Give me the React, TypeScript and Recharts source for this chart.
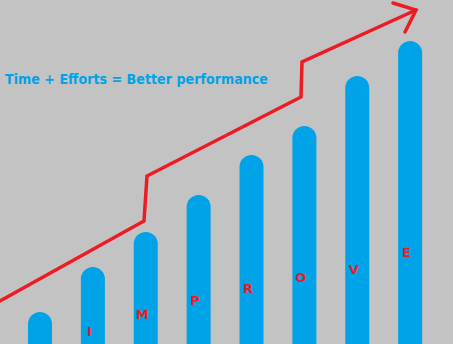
import { ComposedChart, Bar, Line, XAxis, YAxis, Customized } from "recharts"

// eight growth steps, last seven spell the word
const steps = ["s1", "s2", "s3", "s4", "s5", "s6", "s7", "s8"]
const barHeights = [32, 77, 112, 149, 189, 218, 268, 303]
const letters = ["", "I", "M", "P", "R", "O", "V", "E"]
const letterLevels = [null, 13, 30, 44, 56, 67, 75, 92]

// hand drawn trend line (progress vs level) and its arrow head
const trendT = [0, 144, 147, 301, 302, 416]
const trendV = [43, 123, 168, 247, 282, 334]
const headT = [393, 416, 405]
const headV = [341, 334, 312]

const title = "Time + Efforts = Better performance"

const bars = steps.map((s, i) => ({
  step: s,
  height: barHeights[i],
  letterLevel: letterLevels[i],
}))
const trend = trendT.map((t, i) => ({ t, v: trendV[i] }))
const head = headT.map((t, i) => ({ t, v: headV[i] }))

const RED = "#ed1c24"
const BLUE = "#00a2e8"

function renderLetter(props: any) {
  const { x, y, index } = props
  if (y == null || !letters[index]) return null
  return (
    <text
      key={index}
      x={x - 4}
      y={y}
      textAnchor="middle"
      dominantBaseline="central"
      fill={RED}
      fontSize={13}
      fontWeight="bold"
      fontFamily="DejaVu Sans"
    >
      {letters[index]}
    </text>
  )
}

export default function App() {
  return (
    <div
      style={{
        position: "absolute",
        left: 0,
        top: 0,
        width: 453,
        height: 344,
        background: "#c3c3c3",
      }}
    >
      <ComposedChart
        width={453}
        height={344}
        data={bars}
        margin={{ top: 0, right: 0, bottom: 0, left: 0 }}
      >
        <XAxis
          xAxisId="cat"
          dataKey="step"
          type="category"
          hide
          padding={{ left: 14, right: 16 }}
        />
        <XAxis
          xAxisId="t"
          dataKey="t"
          type="number"
          domain={[0, 453]}
          allowDataOverflow
          hide
        />
        <YAxis domain={[0, 344]} allowDataOverflow hide />
        <Bar
          xAxisId="cat"
          dataKey="height"
          fill={BLUE}
          barSize={24}
          radius={[12, 12, 0, 0]}
          isAnimationActive={false}
        />
        <Line
          xAxisId="cat"
          dataKey="letterLevel"
          stroke="none"
          dot={false}
          activeDot={false}
          label={renderLetter}
          isAnimationActive={false}
        />
        <Line
          xAxisId="t"
          data={trend}
          dataKey="v"
          type="linear"
          stroke={RED}
          strokeWidth={3.5}
          strokeLinecap="round"
          dot={false}
          activeDot={false}
          isAnimationActive={false}
        />
        <Line
          xAxisId="t"
          data={head}
          dataKey="v"
          type="linear"
          stroke={RED}
          strokeWidth={3.5}
          strokeLinecap="round"
          dot={false}
          activeDot={false}
          isAnimationActive={false}
        />
        <Customized
          component={() => (
            <text
              x={5}
              y={84}
              fill={BLUE}
              fontSize={14}
              fontWeight="bold"
              fontFamily="DejaVu Sans"
              textLength={263}
              lengthAdjust="spacingAndGlyphs"
            >
              {title}
            </text>
          )}
        />
      </ComposedChart>
    </div>
  )
}
